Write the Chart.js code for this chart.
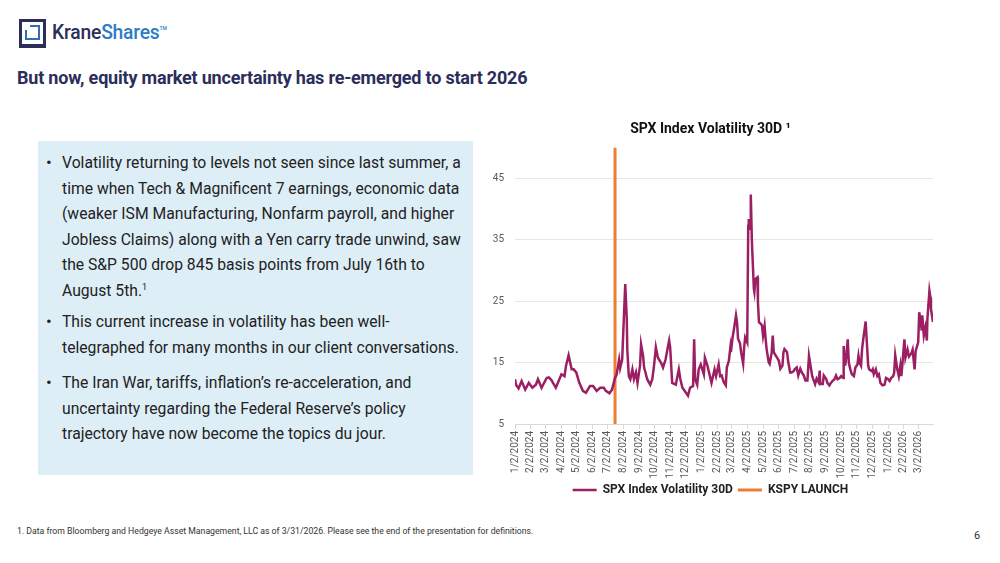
<!DOCTYPE html>
<html>
<head>
<meta charset="utf-8">
<script src="https://cdn.jsdelivr.net/npm/chart.js@4.4.1/dist/chart.umd.min.js"></script>
<style>
  body { margin: 0; width: 1000px; height: 563px; overflow: hidden; position: relative; background: #fff; font-family: Roboto, "Noto Sans", sans-serif; }
  .mark { position: absolute; left: 19px; top: 19px; width: 21px; height: 22px; border: 3px solid #2b2d5b; border-bottom-width: 4px; }
  .mark .inner { position: absolute; left: 3px; top: 3px; width: 11px; height: 11px; border: 2.5px solid #2e6fb7; }
  .mark .notch { position: absolute; left: 2px; top: 2px; width: 6px; height: 6px; background: #fff; }
  .brand { position: absolute; left: 52px; top: 21px; font-size: 19.3px; font-weight: 500; letter-spacing: -0.2px; }
  .brand .k { color: #2b2d5b; }
  .brand .s { color: #2b7cc4; }
  .brand .tm { font-size: 5px; color: #2b7cc4; vertical-align: top; position: relative; top: 4px; }
  h1 { position: absolute; left: 17px; top: 67px; margin: 0; font-size: 18px; font-weight: 700; color: #2b2d5b; letter-spacing: -0.2px; }
  .box { position: absolute; left: 38px; top: 141px; width: 435px; height: 334px; background: #ddeef7; }
  .bullet { position: absolute; left: 24px; font-size: 15.7px; line-height: 25.6px; color: #222; white-space: nowrap; }
  .bullet::before { content: "\2022"; position: absolute; left: -16px; font-size: 17px; }
  .bullet sup { font-size: 9px; line-height: 0; }
  #wrap { position: absolute; left: 488px; top: 110px; width: 472px; height: 396px; }
  .foot { position: absolute; left: 17px; top: 526px; font-size: 8.7px; color: #333; }
  .page { position: absolute; left: 974px; top: 529px; font-size: 11px; color: #333; }
</style>
</head>
<body>
<div class="mark"><div class="inner"></div><div class="notch"></div></div>
<div class="brand"><span class="k">Krane</span><span class="s">Shares</span><span class="tm">TM</span></div>
<h1>But now, equity market uncertainty has re-emerged to start 2026</h1>

<div class="box">
  <div class="bullet" style="top:9px">Volatility returning to levels not seen since last summer, a<br>time when Tech &amp; Magnificent 7 earnings, economic data<br>(weaker ISM Manufacturing, Nonfarm payroll, and higher<br>Jobless Claims) along with a Yen carry trade unwind, saw<br>the S&amp;P 500 drop 845 basis points from July 16th to<br>August 5th.<sup>1</sup></div>
  <div class="bullet" style="top:168px">This current increase in volatility has been well-<br>telegraphed for many months in our client conversations.</div>
  <div class="bullet" style="top:229px">The Iran War, tariffs, inflation’s re-acceleration, and<br>uncertainty regarding the Federal Reserve’s policy<br>trajectory have now become the topics du jour.</div>
</div>

<div id="wrap"><canvas id="volChart" width="472" height="396"></canvas></div>

<div class="foot">1. Data from Bloomberg and Hedgeye Asset Management, LLC as of 3/31/2026. Please see the end of the presentation for definitions.</div>
<div class="page">6</div>

<script>
const dates = [
  "1/2/2024", "1/4/2024", "1/9/2024", "1/15/2024", "1/22/2024", "1/29/2024", "2/5/2024", "2/12/2024", "2/16/2024", "2/23/2024",
  "3/4/2024", "3/8/2024", "3/13/2024", "3/22/2024", "4/2/2024", "4/8/2024", "4/11/2024", "4/16/2024", "4/22/2024", "4/26/2024",
  "5/1/2024", "5/7/2024", "5/14/2024", "5/20/2024", "5/28/2024", "6/3/2024", "6/10/2024", "6/17/2024", "6/24/2024", "6/28/2024",
  "7/5/2024", "7/10/2024", "7/16/2024", "7/19/2024", "7/24/2024", "7/26/2024", "7/30/2024", "8/5/2024", "8/8/2024", "8/9/2024",
  "8/12/2024", "8/15/2024", "8/19/2024", "8/22/2024", "8/26/2024", "8/29/2024", "9/3/2024", "9/5/2024", "9/9/2024", "9/11/2024",
  "9/13/2024", "9/17/2024", "9/23/2024", "9/27/2024", "9/30/2024", "10/4/2024", "10/8/2024", "10/14/2024", "10/18/2024", "10/23/2024",
  "10/25/2024", "10/30/2024", "11/1/2024", "11/5/2024", "11/12/2024", "11/18/2024", "11/21/2024", "11/25/2024", "12/2/2024", "12/6/2024",
  "12/10/2024", "12/16/2024", "12/18/2024", "12/20/2024", "12/24/2024", "12/27/2024", "12/31/2024",
  "1/6/2025", "1/8/2025", "1/13/2025", "1/21/2025", "1/27/2025", "1/30/2025", "2/4/2025", "2/7/2025", "2/10/2025", "2/14/2025",
  "2/18/2025", "2/20/2025", "2/24/2025", "2/27/2025", "2/28/2025", "3/3/2025", "3/5/2025", "3/7/2025", "3/10/2025", "3/12/2025",
  "3/14/2025", "3/18/2025", "3/20/2025", "3/24/2025", "3/26/2025", "3/28/2025", "4/1/2025", "4/3/2025", "4/4/2025", "4/7/2025",
  "4/8/2025", "4/10/2025", "4/11/2025", "4/14/2025", "4/15/2025", "4/17/2025", "4/21/2025", "4/22/2025", "4/24/2025", "4/28/2025",
  "4/30/2025", "5/2/2025", "5/5/2025", "5/7/2025", "5/9/2025", "5/13/2025", "5/15/2025", "5/19/2025", "5/21/2025", "5/23/2025",
  "5/27/2025", "5/29/2025", "6/2/2025", "6/5/2025", "6/9/2025", "6/11/2025", "6/13/2025", "6/18/2025", "6/20/2025", "6/24/2025",
  "6/27/2025", "7/1/2025", "7/3/2025", "7/7/2025", "7/10/2025", "7/14/2025", "7/17/2025", "7/21/2025", "7/24/2025", "7/28/2025",
  "7/31/2025", "8/4/2025", "8/6/2025", "8/8/2025", "8/12/2025", "8/15/2025", "8/19/2025", "8/21/2025", "8/22/2025", "8/27/2025",
  "8/29/2025", "9/3/2025", "9/5/2025", "9/9/2025", "9/12/2025", "9/15/2025", "9/19/2025", "9/22/2025", "9/25/2025", "9/29/2025",
  "10/2/2025", "10/6/2025", "10/7/2025", "10/10/2025", "10/13/2025", "10/15/2025", "10/17/2025", "10/20/2025", "10/23/2025", "10/27/2025",
  "10/30/2025", "11/3/2025", "11/5/2025", "11/7/2025", "11/10/2025", "11/12/2025", "11/14/2025", "11/19/2025", "11/21/2025", "11/24/2025",
  "11/26/2025", "12/1/2025", "12/3/2025", "12/5/2025", "12/9/2025", "12/12/2025", "12/15/2025", "12/18/2025", "12/22/2025", "12/26/2025",
  "12/29/2025", "1/2/2026", "1/5/2026", "1/8/2026", "1/12/2026", "1/14/2026", "1/16/2026", "1/20/2026", "1/23/2026", "1/26/2026",
  "1/28/2026", "1/30/2026", "2/3/2026", "2/5/2026", "2/9/2026", "2/10/2026", "2/12/2026", "2/17/2026", "2/19/2026", "2/23/2026",
  "2/25/2026", "3/2/2026", "3/4/2026", "3/6/2026", "3/9/2026", "3/10/2026", "3/13/2026", "3/16/2026", "3/19/2026", "3/20/2026",
  "3/24/2026", "3/26/2026", "3/27/2026", "3/31/2026"
];

const volatility = [
  12.3, 11.4, 10.8, 12.0, 10.6, 11.7, 10.9, 11.4, 12.3, 10.9,
  12.5, 12.6, 12.2, 10.9, 13.1, 12.8, 14.5, 16.2, 13.9, 13.9,
  13.4, 11.7, 10.4, 10.1, 11.2, 11.2, 10.4, 10.9, 10.9, 10.4,
  10.0, 10.6, 12.5, 13.0, 15.5, 14.1, 15.5, 27.8, 22.1, 17.2,
  12.8, 12.3, 13.9, 12.3, 13.4, 11.7, 14.5, 18.0, 16.1, 14.2,
  13.6, 12.3, 11.4, 12.3, 14.2, 17.5, 15.8, 15.0, 14.2, 15.5,
  16.4, 18.6, 17.5, 11.7, 11.4, 13.9, 12.3, 10.9, 10.1, 9.6,
  10.9, 11.2, 18.8, 12.3, 11.4, 13.9, 14.7,
  13.1, 15.8, 14.5, 11.7, 13.9, 12.8, 14.7, 12.8, 12.9, 11.8,
  11.3, 14.2, 15.3, 17.5, 16.7, 18.9, 19.9, 21.0, 22.7, 21.6,
  18.9, 18.1, 16.7, 14.8, 17.5, 19.1, 18.3, 37.3, 38.4, 36.8,
  42.4, 35.2, 33.0, 27.0, 26.5, 28.6, 28.9, 24.8, 21.6, 21.3,
  21.0, 19.4, 21.0, 18.9, 17.2, 15.1, 14.8, 16.7, 19.4, 16.7,
  16.1, 15.9, 15.3, 14.0, 14.5, 16.7, 17.2, 16.7, 15.3, 13.4,
  13.4, 13.6, 13.9, 14.2, 12.9, 14.0, 13.4, 12.9, 12.1, 12.1,
  16.1, 14.0, 12.9, 12.4, 11.5, 12.4, 11.8, 13.7, 11.5, 11.5,
  12.9, 12.3, 11.7, 11.3, 11.7, 12.0, 12.3, 12.9, 12.3, 12.5,
  12.8, 12.5, 17.7, 14.5, 16.7, 18.8, 15.0, 13.9, 13.1, 12.8,
  14.2, 14.7, 16.1, 15.0, 14.5, 17.2, 18.6, 21.7, 18.8, 14.5,
  13.9, 13.6, 13.9, 13.1, 13.9, 12.8, 13.1, 11.7, 11.3, 11.4,
  12.5, 12.3, 12.0, 12.5, 12.8, 13.4, 16.2, 13.9, 12.8, 14.5,
  12.8, 14.7, 18.8, 15.8, 17.1, 16.6, 16.0, 16.6, 17.1, 13.9,
  16.9, 18.3, 23.2, 22.1, 20.2, 22.7, 19.4, 20.7, 18.6, 22.1,
  26.7, 25.6, 23.7, 21.6
];

const tickLabels = [
  "1/2/2024", "2/2/2024", "3/2/2024", "4/2/2024", "5/2/2024", "6/2/2024", "7/2/2024", "8/2/2024", "9/2/2024",
  "10/2/2024", "11/2/2024", "12/2/2024", "1/2/2025", "2/2/2025", "3/2/2025", "4/2/2025", "5/2/2025", "6/2/2025",
  "7/2/2025", "8/2/2025", "9/2/2025", "10/2/2025", "11/2/2025", "12/2/2025", "1/2/2026", "2/2/2026", "3/2/2026"
];
const yTicks = [5, 15, 25, 35, 45];
const launchDate = "7/16/2024";
const launchRange = [5, 50];
const firstDate = "1/2/2024";
const lastDate = "3/31/2026";

function dayNumber(s) {
  const [m, d, y] = s.split("/").map(Number);
  const [m0, d0, y0] = firstDate.split("/").map(Number);
  return Math.round((Date.UTC(y, m - 1, d) - Date.UTC(y0, m0 - 1, d0)) / 86400000);
}

const labelByDay = {};
tickLabels.forEach(l => { labelByDay[dayNumber(l)] = l; });

const tickFont = { family: "Roboto", size: 10 };

const config = {
  type: "line",
  data: {
    datasets: [
      {
        label: "SPX Index Volatility 30D",
        data: dates.map((d, i) => ({ x: dayNumber(d), y: volatility[i] })),
        borderColor: "#9b1f62",
        backgroundColor: "#9b1f62",
        borderWidth: 2.5,
        pointRadius: 0,
        tension: 0,
      },
      {
        label: "KSPY LAUNCH",
        data: launchRange.map(v => ({ x: dayNumber(launchDate), y: v })),
        borderColor: "#ed7d31",
        backgroundColor: "#ed7d31",
        borderWidth: 3,
        pointRadius: 0,
        clip: false,
      },
    ],
  },
  options: {
    responsive: false,
    animation: false,
    layout: { padding: { left: 0, right: 27, top: 0, bottom: 0 } },
    plugins: {
      tooltip: { enabled: false },
      title: {
        display: true,
        text: "SPX Index Volatility 30D ¹",
        color: "#111",
        font: { family: "Roboto", size: 14, weight: "bold" },
        padding: { top: 11, bottom: 10 },
      },
      legend: {
        position: "bottom",
        labels: {
          usePointStyle: true,
          pointStyle: "line",
          pointStyleWidth: 24,
          padding: 5,
          color: "#222",
          font: { family: "Roboto", size: 12, weight: "bold" },
        },
      },
    },
    scales: {
      x: {
        type: "linear",
        min: 0,
        max: dayNumber(lastDate),
        afterBuildTicks: s => { s.ticks = tickLabels.map(l => ({ value: dayNumber(l) })); },
        afterFit: s => { s.height = 55; },
        ticks: {
          autoSkip: false,
          minRotation: 90,
          maxRotation: 90,
          padding: 2,
          color: "#595959",
          font: tickFont,
          callback: v => labelByDay[v] || "",
        },
        grid: { drawOnChartArea: false, tickLength: 5, color: "#d9d9d9" },
        border: { color: "#d9d9d9" },
      },
      y: {
        min: 5,
        max: 50,
        afterBuildTicks: s => { s.ticks = yTicks.map(v => ({ value: v })); },
        afterFit: s => { s.width = 27; },
        ticks: { padding: 11, color: "#595959", font: tickFont },
        grid: { color: "#e6e6e6", drawTicks: false },
        border: { display: false },
      },
    },
  },
};

var volChart = new Chart(document.getElementById("volChart"), config);
</script>
</body>
</html>
